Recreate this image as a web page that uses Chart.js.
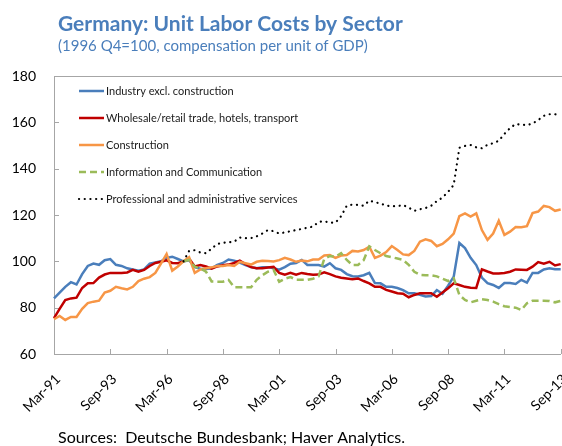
<!DOCTYPE html>
<html>
<head>
<meta charset="utf-8">
<script src="https://cdn.jsdelivr.net/npm/chart.js@4.4.0/dist/chart.umd.min.js"></script>
<style>
  html, body { margin: 0; padding: 0; background: #fff; overflow: hidden; }
  #wrap { position: relative; width: 562px; height: 446px; }
</style>
</head>
<body>
<div id="wrap"><canvas id="ulcChart"></canvas></div>
<script>
// quarterly categories Mar-91 .. Sep-13
const monthNames = ['Mar', 'Jun', 'Sep', 'Dec'];
const quarters = [];
for (let y = 1991; y <= 2013; y++) {
    for (let q = 0; q < 4; q++) {
        if (y === 2013 && q > 2) break;
        quarters.push(monthNames[q] + '-' + String(y).slice(2));
    }
}

const seriesNames = [
    'Industry excl. construction',
    'Wholesale/retail trade, hotels, transport',
    'Construction',
    'Information and Communication',
    'Professional and administrative services'
];

const yTicks = [60, 80, 100, 120, 140, 160, 180];

const industry = [
    84, 86.5, 89, 91, 90, 94.5, 98, 99, 98.5, 100.5,
    101, 98.5, 98, 97, 96.5, 96, 96.5, 99, 99.5, 100,
    101.5, 102, 101, 100, 100.5, 97.5, 96.8, 96.7, 97, 98.5,
    99.3, 100.8, 100.3, 99.5, 98.4, 97.5, 97, 97.5, 97.5, 97,
    96.4, 97.5, 99, 99.3, 100.6, 98.4, 98.4, 98.4, 97.7, 99.2,
    97, 96.3, 94.5, 93.6, 93.5, 94, 95, 90.6, 90.5, 89,
    89, 88.5, 87.6, 86.2, 86.2, 85.6, 84.8, 85, 87.6, 86,
    89.5, 93.4, 107.9, 105.7, 101.5, 98.4, 93, 90.6, 89.8, 88.5,
    90.6, 90.6, 90.2, 92, 90.8, 95, 95, 96.5, 97, 96.6, 96.6
];

const trade = [
    75.5, 79.5, 83.3, 84, 84.3, 88.5, 90.5, 90.6, 93, 94.3,
    95, 95, 95, 95.2, 96.3, 95.5, 96.3, 98, 99.3, 99.8,
    100.4, 99.3, 99.2, 100, 101.2, 97.8, 98.4, 97.8, 96.8, 97.8,
    98.3, 98.6, 99.3, 100.3, 98.8, 97.5, 97, 97, 97.3, 97.6,
    95, 94.2, 95, 94.2, 95, 94.5, 94.2, 94.3, 95.3, 94.5,
    93.5, 92.9, 92.6, 92.3, 92.6, 91.5, 90.5, 89, 89, 87.7,
    87, 86.2, 86, 84.5, 85.5, 86.2, 86.2, 86.2, 84.7, 86.5,
    88.4, 90.5, 89.8, 89, 88.6, 88.5, 96.5, 95.6, 94.8, 94.8,
    95, 95.5, 96.5, 96.4, 96.3, 97.7, 99.7, 99, 99.8, 98.2, 98.8
];

const construction = [
    75, 76.4, 74.7, 76, 76, 79.5, 82, 82.6, 83, 86.5,
    87.3, 89, 88.4, 87.9, 89, 91.5, 92.5, 93.2, 95, 99,
    103.2, 96, 97.8, 100, 101.8, 95, 96.5, 97, 97.4, 98,
    98, 98.4, 98, 99.8, 99.2, 98.6, 99.8, 100.2, 100.1, 99.9,
    100.5, 101.5, 100.8, 99.8, 100.3, 100, 100.8, 100.8, 102.5, 102.7,
    101.5, 102.5, 102.7, 104.5, 104.3, 104.9, 106.3, 101.5, 102.5, 104,
    106.6, 104.9, 103, 102.7, 104.5, 108.5, 109.5, 108.8, 106.5, 107.5,
    109.5, 112, 119.5, 120.7, 119.3, 120.7, 113.5, 109.3, 112, 117.5,
    111.4, 112.8, 114.8, 114.7, 115.2, 120.8, 121.5, 123.9, 123.4, 121.8, 122.4
];

// these two series start in 1996 Q4
const infoComm = [
    null, null, null, null, null, null, null, null, null, null,
    null, null, null, null, null, null, null, null, null, null,
    null, null, null, 100, 100.6, 97.7, 97, 95.5, 91.3, 91.2,
    91.2, 92, 88.8, 88.8, 88.8, 88.8, 92, 94, 95.5, 96.3,
    91.2, 92.5, 93.2, 92.1, 92, 92, 92.5, 93.5, 101, 102.3,
    102, 103.5, 100.6, 98.4, 98.4, 100.5, 106.5, 104.9, 103.5, 102.3,
    101.8, 101.2, 100.6, 98.5, 95.5, 94.2, 94, 94, 93.5, 92.5,
    91.5, 92.7, 85.5, 83.3, 82.3, 83, 83.6, 83.3, 82.6, 81.5,
    80.6, 80.3, 80, 79, 81.9, 83, 83, 83, 82.9, 82.3, 82.9
];

const professional = [
    null, null, null, null, null, null, null, null, null, null,
    null, null, null, null, null, null, null, null, null, null,
    null, null, null, 100, 104.5, 104.8, 103.8, 103.5, 105.5, 107.5,
    108, 108.2, 108.5, 110.3, 110, 110, 110.8, 112, 113.5, 113,
    112, 112.5, 113, 113.5, 114, 114.5, 115, 117, 117.3, 116.7,
    116.7, 119.5, 124, 124.5, 124.3, 124, 126.2, 125.5, 125, 124,
    123.8, 123.8, 124.3, 123.2, 121.8, 122.5, 123, 124, 126, 127.5,
    130, 133, 149, 149.8, 150.2, 149.2, 148.8, 150.3, 151, 152,
    155, 157.5, 159.3, 159, 158.8, 159.5, 161, 162.8, 163.5, 163.5, 163.2
];

const axisGray = '#a6a6a6';
const titleBlue = '#4a7ebb';
const fontFamily = 'Lato, "Liberation Sans", sans-serif';

// title, subtitle, source, inside tick marks, top border and the legend
const decorations = {
    id: 'decorations',
    beforeDatasetsDraw(chart) {
        const ctx = chart.ctx;
        const area = chart.chartArea;
        const x = chart.scales.x;
        const y = chart.scales.y;
        ctx.save();
        ctx.strokeStyle = axisGray;
        ctx.lineWidth = 1;
        ctx.beginPath();
        ctx.moveTo(area.left, area.top + 0.5);
        ctx.lineTo(area.right + 2, area.top + 0.5);
        yTicks.forEach(v => {
            const py = Math.round(y.getPixelForValue(v)) + 0.5;
            ctx.moveTo(area.left, py);
            ctx.lineTo(area.left + 5, py);
        });
        quarters.forEach((q, i) => {
            if (i % 10 !== 0) return;
            const px = Math.round(x.getPixelForValue(i)) + 0.5;
            ctx.moveTo(px, area.bottom);
            ctx.lineTo(px, area.bottom - 5);
        });
        ctx.stroke();
        ctx.restore();
    },
    afterDatasetsDraw(chart) {
        const ctx = chart.ctx;
        ctx.save();
        ctx.font = '11px ' + fontFamily;
        ctx.textBaseline = 'middle';
        ctx.textAlign = 'left';
        chart.data.datasets.forEach((ds, i) => {
            const ly = 91 + i * 27;
            ctx.strokeStyle = ds.borderColor;
            ctx.lineWidth = ds.borderWidth;
            ctx.lineCap = ds.borderCapStyle || 'butt';
            ctx.setLineDash(ds.borderDash || []);
            ctx.beginPath();
            ctx.moveTo(79, ly);
            ctx.lineTo(104, ly);
            ctx.stroke();
            ctx.setLineDash([]);
            ctx.fillStyle = '#1a1a1a';
            ctx.fillText(ds.label, 106, ly);
        });
        ctx.restore();
    },
    afterDraw(chart) {
        const ctx = chart.ctx;
        ctx.save();
        ctx.textBaseline = 'alphabetic';
        ctx.textAlign = 'left';
        ctx.fillStyle = titleBlue;
        ctx.font = 'bold 21px ' + fontFamily;
        ctx.fillText('Germany: Unit Labor Costs by Sector', 58, 31);
        ctx.font = '15px ' + fontFamily;
        ctx.fillText('(1996 Q4=100, compensation per unit of GDP)', 58, 51);
        ctx.fillStyle = '#000';
        ctx.font = '16px ' + fontFamily;
        ctx.fillText('Sources:  Deutsche Bundesbank; Haver Analytics.', 58, 443);
        ctx.restore();
    }
};

const ctxUlc = document.getElementById('ulcChart').getContext('2d');
new Chart(ctxUlc, {
    type: 'line',
    data: {
        labels: quarters,
        datasets: [{
            label: seriesNames[0],
            data: industry,
            borderColor: '#4a7ebb',
            borderWidth: 2.5,
            order: 5
        }, {
            label: seriesNames[1],
            data: trade,
            borderColor: '#c00000',
            borderWidth: 2.5,
            order: 4
        }, {
            label: seriesNames[2],
            data: construction,
            borderColor: '#f79646',
            borderWidth: 2.5,
            order: 3
        }, {
            label: seriesNames[3],
            data: infoComm,
            borderColor: '#9bbb59',
            borderWidth: 2.5,
            borderDash: [7, 4],
            order: 2
        }, {
            label: seriesNames[4],
            data: professional,
            borderColor: '#000000',
            borderWidth: 2.2,
            borderDash: [0.1, 5.6],
            borderCapStyle: 'round',
            order: 1
        }]
    },
    options: {
        responsive: true,
        maintainAspectRatio: false,
        animation: false,
        layout: {
            padding: {top: 76, left: 0, right: 1.3, bottom: 0}
        },
        elements: {
            point: {radius: 0},
            line: {tension: 0, fill: false}
        },
        scales: {
            x: {
                type: 'category',
                offset: false,
                afterFit: function (scale) {
                    scale.height = 92;
                    scale.paddingLeft = 0;
                    scale.paddingRight = 0;
                },
                grid: {display: true, drawOnChartArea: false, drawTicks: false, color: 'transparent'},
                border: {display: true, color: axisGray, width: 1},
                ticks: {
                    autoSkip: false,
                    minRotation: 45,
                    maxRotation: 45,
                    padding: 17,
                    labelOffset: 4,
                    color: '#000',
                    font: {family: fontFamily, size: 14},
                    callback: function (value, index) {
                        return index % 10 === 0 ? quarters[index] : null;
                    }
                }
            },
            y: {
                min: 60,
                max: 180,
                afterFit: function (scale) {
                    scale.width = 54;
                    scale.paddingTop = 0;
                    scale.paddingBottom = 0;
                },
                afterBuildTicks: function (scale) {
                    scale.ticks = yTicks.map(v => ({value: v}));
                },
                grid: {display: false, drawTicks: false},
                border: {display: true, color: axisGray, width: 1},
                ticks: {
                    padding: 18,
                    color: '#000',
                    font: {family: fontFamily, size: 14}
                }
            }
        },
        plugins: {
            legend: {display: false},
            tooltip: {enabled: false}
        }
    },
    plugins: [decorations]
});
</script>
</body>
</html>
